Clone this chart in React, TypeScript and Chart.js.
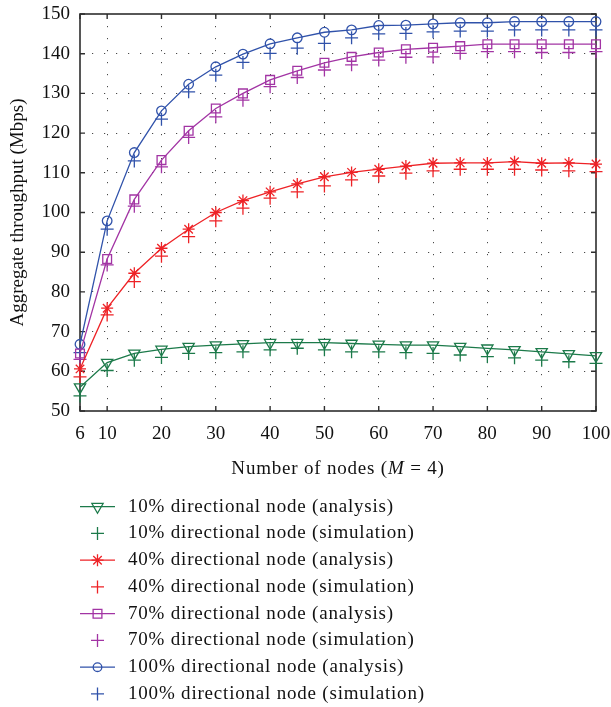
import React, { useEffect, useRef } from 'react';
import { Chart, registerables } from 'chart.js';

Chart.register(...registerables);

// ---------- data ----------
const nodeLabels = ['6', '10', '15', '20', '25', '30', '35', '40', '45', '50', '55', '60', '65', '70', '75', '80', '85', '90', '95', '100'];
const shownXTicks = ['6', '10', '20', '30', '40', '50', '60', '70', '80', '90', '100'];
const yMin = 50;
const yMax = 150;
const yStep = 10;

const analysis10 = [56.0, 62.2, 64.5, 65.5, 66.2, 66.6, 66.9, 67.2, 67.2, 67.2, 67.0, 66.8, 66.6, 66.6, 66.2, 65.8, 65.4, 64.9, 64.4, 63.9];
const simulation10 = [53.8, 60.2, 62.8, 63.5, 64.5, 64.7, 64.9, 65.4, 65.8, 65.4, 64.9, 64.9, 64.7, 64.5, 64.1, 63.7, 63.4, 62.8, 62.4, 62.0];
const analysis40 = [60.6, 75.9, 84.7, 91.0, 95.8, 100.0, 103.0, 105.2, 107.2, 109.0, 110.1, 110.9, 111.7, 112.4, 112.5, 112.5, 112.8, 112.4, 112.5, 112.2];
const simulation40 = [58.6, 74.2, 82.6, 89.0, 93.9, 97.9, 101.1, 103.6, 105.2, 106.7, 108.2, 109.2, 109.9, 110.5, 110.9, 110.9, 110.9, 110.7, 110.5, 110.3];
const analysis70 = [64.5, 88.3, 103.3, 113.2, 120.6, 126.2, 130.0, 133.4, 135.7, 137.7, 139.2, 140.3, 141.1, 141.5, 141.9, 142.4, 142.4, 142.4, 142.4, 142.4];
const simulation70 = [63.0, 86.8, 101.6, 111.5, 118.9, 124.1, 128.3, 131.7, 134.0, 135.9, 137.2, 138.4, 139.1, 139.2, 140.1, 140.5, 140.5, 140.3, 140.3, 140.5];
const analysis100 = [66.8, 97.9, 115.1, 125.6, 132.3, 136.7, 139.9, 142.5, 144.0, 145.4, 146.0, 147.1, 147.2, 147.5, 147.8, 147.8, 148.1, 148.1, 148.1, 148.1];
const simulation100 = [64.7, 95.8, 113.0, 123.5, 130.4, 134.6, 137.8, 140.1, 141.4, 142.6, 144.0, 145.0, 145.1, 145.5, 145.7, 145.7, 146.0, 146.0, 146.0, 146.0];

const seriesNames = [
  '10% directional node (analysis)',
  '10% directional node (simulation)',
  '40% directional node (analysis)',
  '40% directional node (simulation)',
  '70% directional node (analysis)',
  '70% directional node (simulation)',
  '100% directional node (analysis)',
  '100% directional node (simulation)',
];
const xTitleParts = ['Number of nodes (', 'M', ' = 4)'];
const yTitle = 'Aggregate throughput (Mbps)';

// ---------- styles ----------
const GREEN = 'rgb(28,122,74)';
const RED = 'rgb(238,34,38)';
const PURPLE = 'rgb(162,52,164)';
const BLUE = 'rgb(48,82,170)';
const FONT = '"Liberation Serif", "Times New Roman", serif';
const TEXT = '#111111';
const FS = 19;

type Marker = 'triangleDown' | 'star' | 'rect' | 'circle' | 'cross';

const seriesStyle: { color: string; marker: Marker; radius: number; line: boolean }[] = [
  { color: GREEN, marker: 'triangleDown', radius: 6.5, line: true },
  { color: GREEN, marker: 'cross', radius: 6.5, line: false },
  { color: RED, marker: 'star', radius: 6, line: true },
  { color: RED, marker: 'cross', radius: 6.5, line: false },
  { color: PURPLE, marker: 'rect', radius: 6.2, line: true },
  { color: PURPLE, marker: 'cross', radius: 6.5, line: false },
  { color: BLUE, marker: 'circle', radius: 4.8, line: true },
  { color: BLUE, marker: 'cross', radius: 6.5, line: false },
];
const seriesData = [analysis10, simulation10, analysis40, simulation40, analysis70, simulation70, analysis100, simulation100];

function drawMarker(ctx: CanvasRenderingContext2D, m: Marker, x: number, y: number, r: number) {
  ctx.beginPath();
  if (m === 'circle') {
    ctx.arc(x, y, r, 0, Math.PI * 2);
  } else if (m === 'rect') {
    const s = Math.SQRT1_2 * r;
    ctx.rect(x - s, y - s, 2 * s, 2 * s);
  } else if (m === 'triangleDown') {
    ctx.moveTo(x, y + r);
    ctx.lineTo(x - 0.866 * r, y - 0.5 * r);
    ctx.lineTo(x + 0.866 * r, y - 0.5 * r);
    ctx.closePath();
  } else if (m === 'cross') {
    ctx.moveTo(x - r, y);
    ctx.lineTo(x + r, y);
    ctx.moveTo(x, y - r);
    ctx.lineTo(x, y + r);
  } else if (m === 'star') {
    ctx.moveTo(x - r, y);
    ctx.lineTo(x + r, y);
    ctx.moveTo(x, y - r);
    ctx.lineTo(x, y + r);
    const d = r * Math.SQRT1_2;
    ctx.moveTo(x - d, y - d);
    ctx.lineTo(x + d, y + d);
    ctx.moveTo(x + d, y - d);
    ctx.lineTo(x - d, y + d);
  }
  ctx.stroke();
}

const decorPlugin = {
  id: 'decor',
  beforeDatasetsDraw(chart: any) {
    const { ctx, chartArea } = chart;
    const { left, right, top, bottom } = chartArea;
    const xs = chart.scales.x;
    const ys = chart.scales.y;
    ctx.save();
    ctx.strokeStyle = '#2e2e2e';
    ctx.lineWidth = 1.6;
    ctx.strokeRect(left, top, right - left, bottom - top);
    // inward tick marks
    ctx.lineWidth = 1.4;
    const tl = 5;
    ctx.beginPath();
    nodeLabels.forEach((lab, i) => {
      if (!shownXTicks.includes(lab)) return;
      const px = xs.getPixelForValue(i);
      ctx.moveTo(px, bottom);
      ctx.lineTo(px, bottom - tl);
      ctx.moveTo(px, top);
      ctx.lineTo(px, top + tl);
    });
    for (let v = yMin; v <= yMax; v += yStep) {
      const py = ys.getPixelForValue(v);
      ctx.moveTo(left, py);
      ctx.lineTo(left + tl, py);
      ctx.moveTo(right, py);
      ctx.lineTo(right - tl, py);
    }
    ctx.stroke();
    ctx.restore();
  },
  afterDraw(chart: any) {
    const { ctx, chartArea } = chart;
    ctx.save();
    const normal = `${FS}px ${FONT}`;
    const italic = `italic ${FS}px ${FONT}`;
    try {
      (ctx as any).letterSpacing = '0.8px';
    } catch (e) {
      /* ignore */
    }
    // x axis title with italic M
    ctx.fillStyle = TEXT;
    ctx.textBaseline = 'middle';
    ctx.textAlign = 'left';
    const fonts = [normal, italic, normal];
    const widths = xTitleParts.map((t, i) => {
      ctx.font = fonts[i];
      return ctx.measureText(t).width;
    });
    const total = widths.reduce((a, b) => a + b, 0);
    let x = (chartArea.left + chartArea.right) / 2 - total / 2;
    const ty = 469;
    xTitleParts.forEach((t, i) => {
      ctx.font = fonts[i];
      ctx.fillText(t, x, ty);
      x += widths[i];
    });

    // legend
    const lx0 = 80;
    const lx1 = 115;
    const mx = 97.5;
    const tx = 128;
    const y0 = 506.7;
    const dy = 26.75;
    ctx.font = normal;
    seriesNames.forEach((name, i) => {
      const st = seriesStyle[i];
      const y = y0 + i * dy;
      ctx.strokeStyle = st.color;
      if (st.line) {
        ctx.lineWidth = 1.3;
        ctx.beginPath();
        ctx.moveTo(lx0, y);
        ctx.lineTo(lx1, y);
        ctx.stroke();
      }
      ctx.lineWidth = 1.3;
      const r = st.marker === 'circle' ? 4.3 : st.marker === 'cross' ? 6.5 : st.radius;
      drawMarker(ctx, st.marker, mx, y, r);
      ctx.fillStyle = TEXT;
      ctx.fillText(name, tx, y);
    });
    ctx.restore();
  },
};

const chartPointStyle: Record<Marker, string> = {
  triangleDown: 'triangle',
  star: 'star',
  rect: 'rect',
  circle: 'circle',
  cross: 'cross',
};

export default function App() {
  const ref = useRef<HTMLCanvasElement | null>(null);

  useEffect(() => {
    document.body.style.margin = '0';
    const canvas = ref.current;
    if (!canvas) return;

    const datasets = seriesData.map((d, i) => {
      const st = seriesStyle[i];
      return {
        label: seriesNames[i],
        data: d,
        showLine: st.line,
        borderColor: st.color,
        borderWidth: 1.3,
        backgroundColor: 'rgba(0,0,0,0)',
        pointStyle: chartPointStyle[st.marker],
        pointRotation: st.marker === 'triangleDown' ? 180 : 0,
        pointRadius: st.radius,
        pointHoverRadius: st.radius,
        pointBorderColor: st.color,
        pointBackgroundColor: 'rgba(0,0,0,0)',
        pointBorderWidth: 1.3,
        tension: 0,
        clip: false as any,
        fill: false,
      };
    });

    const chart = new Chart(canvas, {
      type: 'line',
      data: { labels: nodeLabels, datasets: datasets as any },
      options: {
        responsive: false,
        animation: false,
        devicePixelRatio: 1,
        layout: { padding: { left: 0, right: 15, top: 14, bottom: 224 } },
        plugins: {
          legend: { display: false },
          tooltip: { enabled: false },
        },
        scales: {
          x: {
            type: 'category',
            offset: false,
            afterFit: (s: any) => {
              s.height = 72;
              s.paddingLeft = 0;
              s.paddingRight = 0;
            },
            grid: {
              drawTicks: false,
              lineWidth: 1,
              color: (c: any) =>
                shownXTicks.includes(nodeLabels[c.index]) && c.index !== 0 && c.index !== nodeLabels.length - 1
                  ? '#4a4a4a'
                  : 'rgba(0,0,0,0)',
            },
            border: { display: false, dash: [1.2, 10.8] },
            ticks: {
              autoSkip: false,
              maxRotation: 0,
              padding: 12,
              color: TEXT,
              font: { family: FONT, size: FS },
              callback: (_v: any, i: number) => (shownXTicks.includes(nodeLabels[i]) ? nodeLabels[i] : ''),
            },
          },
          y: {
            type: 'linear',
            min: yMin,
            max: yMax,
            afterFit: (s: any) => {
              s.width = 80;
              s.paddingTop = 0;
              s.paddingBottom = 0;
            },
            ticks: {
              stepSize: yStep,
              padding: 10,
              color: TEXT,
              font: { family: FONT, size: FS },
            },
            grid: {
              drawTicks: false,
              lineWidth: 1,
              color: (c: any) =>
                c.tick && (c.tick.value === yMin || c.tick.value === yMax) ? 'rgba(0,0,0,0)' : '#4a4a4a',
            },
            border: { display: false, dash: [1.2, 10.8] },
            title: {
              display: true,
              text: yTitle,
              color: TEXT,
              font: { family: FONT, size: FS },
              padding: { top: 7, bottom: 0 },
            },
          },
        },
      },
      plugins: [decorPlugin],
    });

    return () => {
      chart.destroy();
    };
  }, []);

  return (
    <div style={{ width: 611, height: 707, background: '#fff' }}>
      <canvas ref={ref} width={611} height={707} style={{ display: 'block' }} />
    </div>
  );
}
